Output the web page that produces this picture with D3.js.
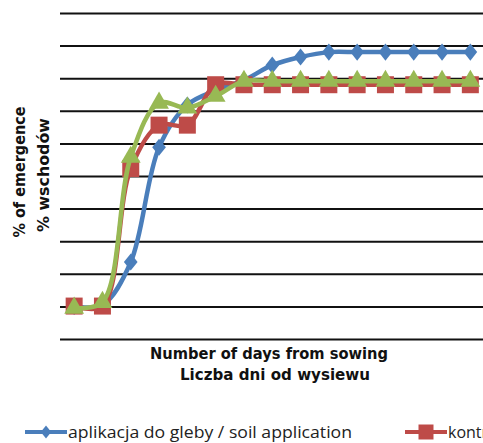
<!DOCTYPE html>
<html>
<head>
<meta charset="utf-8">
<script src="https://cdn.jsdelivr.net/npm/d3@7"></script>
<style>
  html, body { margin: 0; padding: 0; background: #fff; }
  svg { display: block; }
</style>
</head>
<body>
<svg id="chart" width="483" height="443"></svg>
<script>
// ---- data ----
const days = [1, 2, 3, 4, 5, 6, 7, 8, 9, 10, 11, 12, 13, 14, 15];
const soilApplication = [10, 10.5, 23.6, 58.8, 71.8, 76.2, 79.4, 84, 86.5, 88, 88, 88, 88, 88, 88];
const control = [10.1, 10.1, 52.3, 65.6, 65.6, 78, 78, 78, 78, 78, 78, 78, 78, 78, 78];
const foliar = [9.5, 11.3, 55.8, 72.4, 70.9, 74.5, 79.1, 79.1, 79.1, 79.1, 79.1, 79.1, 79.1, 79.1, 79.1];
const yTicks = [0, 10, 20, 30, 40, 50, 60, 70, 80, 90, 100];
const seriesNames = ["aplikacja do gleby / soil application", "kontrola / control", "aplikacja dolistna / foliar application"];

// ---- layout ----
const svg = d3.select("#chart");
const plotL = 60, plotR = 484.5, plotT = 13, plotB = 339;

const x = d3.scalePoint().domain(days).range([plotL, plotR]).padding(0.5);
const y = d3.scaleLinear().domain([0, 100]).range([plotB, plotT]);

// gridlines
const grid = svg.append("g")
  .attr("transform", `translate(${plotL},0)`)
  .call(d3.axisLeft(y).tickValues(yTicks).tickSize(-(plotR - plotL)).tickFormat(""));
grid.select(".domain").remove();
grid.selectAll(".tick line").attr("stroke", "#111").attr("stroke-width", 2);

// custom diamond
const diamond = {
  draw(ctx, size) {
    const h = Math.sqrt(size) * 0.62, w = h * 0.8;
    ctx.moveTo(0, -h); ctx.lineTo(w, 0); ctx.lineTo(0, h); ctx.lineTo(-w, 0); ctx.closePath();
  }
};

const series = [
  { name: seriesNames[0], values: soilApplication, color: "#4A7EBB", symbol: diamond, size: 190, lsize: 110 },
  { name: seriesNames[1], values: control, color: "#BE4B48", symbol: d3.symbolSquare, size: 289, lsize: 225 },
  { name: seriesNames[2], values: foliar, color: "#98B954", symbol: d3.symbolTriangle, size: 170, lsize: 130 }
];

const line = d3.line()
  .x((d, i) => x(days[i]))
  .y(d => y(d))
  .curve(d3.curveCatmullRom.alpha(0.5));

series.forEach(s => {
  const g = svg.append("g");
  g.append("path")
    .datum(s.values)
    .attr("d", line)
    .attr("fill", "none")
    .attr("stroke", s.color)
    .attr("stroke-width", 4.5)
    .attr("stroke-linejoin", "round");
  g.selectAll("path.m")
    .data(s.values)
    .join("path")
    .attr("class", "m")
    .attr("transform", (d, i) => `translate(${x(days[i])},${y(d)})`)
    .attr("d", d3.symbol().type(s.symbol).size(s.size))
    .attr("fill", s.color);
});

// axis titles
const titleFont = "'DejaVu Sans', 'Liberation Sans', Arial, sans-serif";
function title(tx, ty, rot, len, str) {
  svg.append("text")
    .attr("transform", `translate(${tx},${ty})` + (rot ? " rotate(-90)" : ""))
    .attr("text-anchor", "middle")
    .attr("font-family", titleFont).attr("font-weight", "bold").attr("font-size", 16.5)
    .attr("textLength", len).attr("lengthAdjust", "spacingAndGlyphs")
    .attr("fill", "#111")
    .text(str);
}
title(269, 359, false, 238, "Number of days from sowing");
title(275, 380, false, 190, "Liczba dni od wysiewu");
title(25, 172, true, 131, "% of emergence");
title(49, 175, true, 114, "% wschodów");

// legend
const legendItems = [
  { s: series[0], x0: 25 },
  { s: series[1], x0: 405 }
];
legendItems.forEach(li => {
  const g = svg.append("g").attr("transform", `translate(${li.x0},432)`);
  g.append("line").attr("x1", 0).attr("x2", 42).attr("y1", 0).attr("y2", 0)
    .attr("stroke", li.s.color).attr("stroke-width", 4);
  g.append("path").attr("transform", "translate(21,0)")
    .attr("d", d3.symbol().type(li.s.symbol).size(li.s.lsize))
    .attr("fill", li.s.color);
  g.append("text").attr("x", 43).attr("y", 6)
    .attr("font-family", "'Open Sans', 'Liberation Sans', sans-serif").attr("font-size", 16)
    .attr("textLength", li.s === series[0] ? 284 : null)
    .attr("lengthAdjust", "spacingAndGlyphs")
    .attr("fill", "#222")
    .text(li.s.name);
});
</script>
</body>
</html>
